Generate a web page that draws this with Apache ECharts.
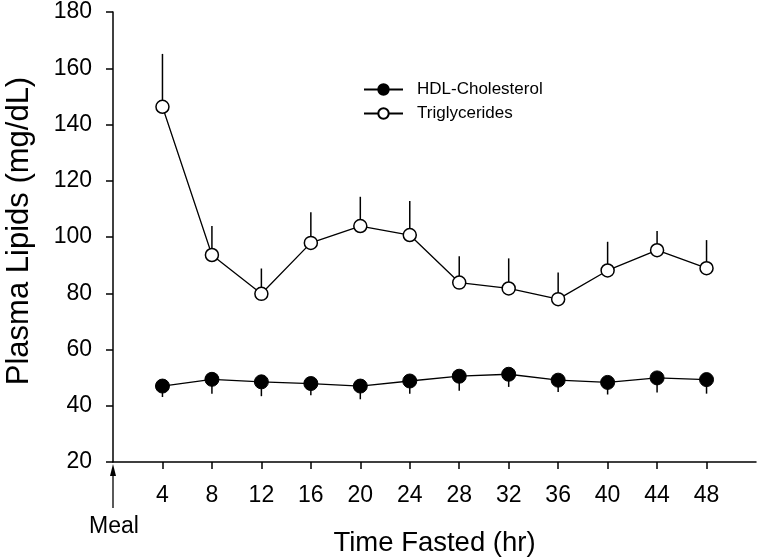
<!DOCTYPE html>
<html><head><meta charset="utf-8">
<script src="https://cdn.jsdelivr.net/npm/echarts@6/dist/echarts.min.js"></script>
<style>html,body{margin:0;padding:0;background:#fff}#c{width:759px;height:559px}</style>
</head><body><div id="c"></div>
<script>
var hours = [4, 8, 12, 16, 20, 24, 28, 32, 36, 40, 44, 48];
var xTickLabels = [4, 8, 12, 16, 20, 24, 28, 32, 36, 40, 44, 48];
var trig = [146.3, 93.6, 79.8, 97.9, 103.9, 100.7, 83.8, 81.7, 77.9, 88.1, 95.3, 88.9];
var trigErr = [18.8, 10.3, 9.0, 10.9, 10.4, 12.1, 9.4, 10.7, 9.5, 10.2, 6.8, 10.0];
var hdl = [47.0, 49.4, 48.5, 47.9, 47.0, 48.8, 50.5, 51.2, 49.1, 48.3, 49.9, 49.3];
var hdlErr = [3.9, 5.1, 5.1, 4.2, 4.7, 4.5, 5.2, 4.5, 4.2, 4.3, 5.2, 5.0];

var FONT = '"Liberation Sans", Arial, sans-serif';
var chart = echarts.init(document.getElementById('c'), null, {renderer: 'canvas'});

function errSeries(name, vals, errs, dir) {
  var data = hours.map(function (h, i) { return [h, vals[i], vals[i] + dir * errs[i]]; });
  return {
    type: 'custom', name: name + '_err', z: 1, silent: true,
    data: data,
    renderItem: function (params, api) {
      var p1 = api.coord([api.value(0), api.value(1)]);
      var p2 = api.coord([api.value(0), api.value(2)]);
      return {type: 'line', shape: {x1: p1[0], y1: p1[1], x2: p2[0], y2: p2[1]},
        style: {stroke: '#000', lineWidth: 1.5}};
    }
  };
}

var option = {
  animation: false,
  backgroundColor: '#fff',
  textStyle: {fontFamily: FONT},
  grid: {left: 113, right: 3, top: 12, bottom: 97, containLabel: false, outerBoundsMode: 'none'},
  legend: {
    left: 363, top: 81, orient: 'vertical', padding: 0,
    itemWidth: 39, itemHeight: 13, itemGap: 7,
    data: ['HDL-Cholesterol', 'Triglycerides'],
    textStyle: {fontFamily: FONT, fontSize: 17, color: '#000', padding: [0, 0, 0, 9]}
  },
  xAxis: {
    type: 'value', min: 0, max: 52, interval: 4,
    name: 'Time Fasted (hr)', nameLocation: 'middle', nameGap: 67,
    nameTextStyle: {fontFamily: FONT, fontSize: 27.5, color: '#000'},
    axisLine: {lineStyle: {color: '#000', width: 1.5}},
    axisTick: {show: true, length: 7, lineStyle: {color: '#000', width: 1.5}, customValues: xTickLabels},
    axisLabel: {fontFamily: FONT, fontSize: 23, color: '#000', margin: 22, customValues: xTickLabels},
    splitLine: {show: false}
  },
  yAxis: {
    type: 'value', min: 20, max: 180, interval: 20,
    name: 'Plasma Lipids (mg/dL)', nameLocation: 'middle', nameGap: 78, nameRotate: 90,
    nameTextStyle: {fontFamily: FONT, fontSize: 31, color: '#000', padding: [0, 0, 0, 12]},
    axisLine: {show: true, lineStyle: {color: '#000', width: 1.5}},
    axisTick: {show: true, length: 7, lineStyle: {color: '#000', width: 1.5}},
    axisLabel: {fontFamily: FONT, fontSize: 23, color: '#000', margin: 21},
    splitLine: {show: false}
  },
  series: [
    errSeries('Triglycerides', trig, trigErr, 1),
    errSeries('HDL-Cholesterol', hdl, hdlErr, -1),
    {
      name: 'HDL-Cholesterol', type: 'line', z: 3,
      data: hours.map(function (h, i) { return [h, hdl[i]]; }),
      symbol: 'circle', symbolSize: 14,
      lineStyle: {color: '#000', width: 1.3},
      itemStyle: {color: '#000', borderColor: '#000', borderWidth: 1}
    },
    {
      name: 'Triglycerides', type: 'line', z: 3,
      data: hours.map(function (h, i) { return [h, trig[i]]; }),
      symbol: 'circle', symbolSize: 13,
      lineStyle: {color: '#000', width: 1.3},
      itemStyle: {color: '#fff', borderColor: '#000', borderWidth: 1.5}
    }
  ]
};
chart.setOption(option);

var x0 = chart.convertToPixel({xAxisIndex: 0}, 0);
var yBase = chart.convertToPixel({yAxisIndex: 0}, 20);
chart.setOption({
  graphic: [
    {type: 'line', shape: {x1: x0, y1: yBase + 46, x2: x0, y2: yBase + 8}, style: {stroke: '#000', lineWidth: 1.3}},
    {type: 'polygon', shape: {points: [[x0, yBase + 2], [x0 - 3, yBase + 14], [x0 + 3, yBase + 14]]}, style: {fill: '#000'}},
    {type: 'text', x: x0 + 1, y: yBase + 65, style: {text: 'Meal', fontFamily: FONT, fontSize: 23, fill: '#000', align: 'center', verticalAlign: 'middle'}}
  ]
});
</script>
</body></html>
